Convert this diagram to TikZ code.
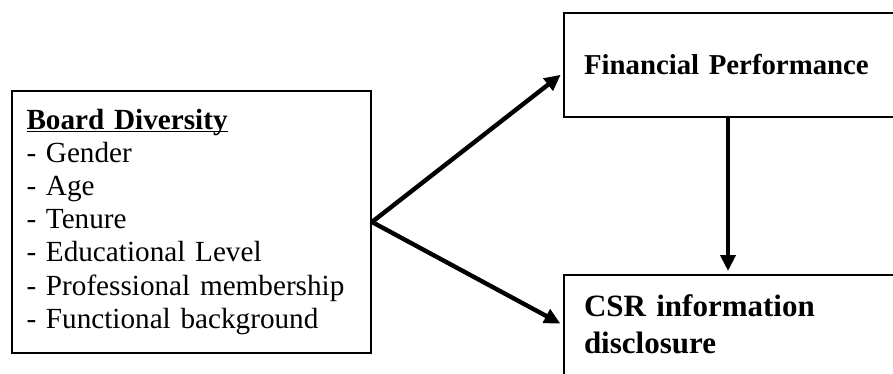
\documentclass[tikz,border=0pt]{standalone}
\usepackage{fontspec}
\setmainfont{Liberation Serif}
\usetikzlibrary{arrows.meta}
\hyphenpenalty=10000

\begin{document}
\begin{tikzpicture}[x=0.5pt, y=-0.5pt,
	box/.style = {draw, line width=1pt, rectangle, align=left, anchor=north west},
	link/.style = {line width=2.2pt, -{Triangle[length=8pt,width=7.5pt]}}]

\useasboundingbox (0,0) rectangle (893,374);
\clip (0,0) rectangle (893,374);

\node[box, text width=165pt, inner xsep=7.25pt, inner ysep=0pt,
	text height=19pt, text depth=112pt,
	font=\fontsize{14.6}{16.6}\selectfont] (board) at (11,90)
	{\underline{\smash{\textbf{Board Diversity}}}\\
	 - Gender\\
	 - Age\\
	 - Tenure\\
	 - Educational Level\\
	 - Professional membership\\
	 - Functional background};

\node[box, text width=150pt, inner xsep=10pt, minimum height=52pt,
	font=\fontsize{14.4}{16.5}\selectfont\bfseries] (fin) at (563,12)
	{Financial Performance};

\node[box, text width=150pt, inner xsep=10pt, inner ysep=10pt, text depth=30pt,
	font=\fontsize{15.5}{18.5}\selectfont\bfseries] (csr) at (563,274)
	{CSR information\\disclosure};

%\draw (board.east) -- (fin.west);
\draw[link, shorten >=1.5pt] (board.east) -- ([yshift=-4pt]fin.west);
\draw[link, shorten >=1.5pt] (board.east) -- ([yshift=-25.5pt]csr.north west);
\draw[link, shorten >=1.5pt] ([xshift=-3pt]fin.south) -- ([xshift=-3pt]fin.south |- csr.north);
\end{tikzpicture}
\end{document}
